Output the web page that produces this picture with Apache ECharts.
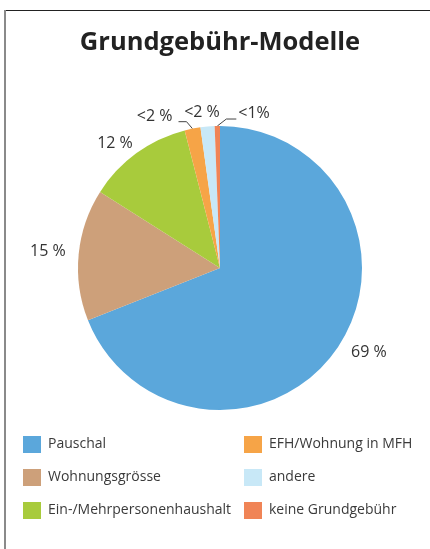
<!DOCTYPE html>
<html>
<head>
<meta charset="utf-8">
<script src="https://cdn.jsdelivr.net/npm/echarts@6/dist/echarts.min.js"></script>
<style>
  html, body { margin: 0; padding: 0; background: #fff; }
  #chart { width: 430px; height: 549px; }
</style>
</head>
<body>
<div id="chart"></div>
<script>
// Data
// ----------
var categories = ['Pauschal', 'Wohnungsgrösse', 'Ein-/Mehrpersonenhaushalt', 'EFH/Wohnung in MFH', 'andere', 'keine Grundgebühr']
var shares = [69, 15, 12, 1.8, 1.6, 0.6]
var shareLabels = ['69 %', '15 %', '12 %', '<2 %', '<2 %', '<1%']
var colors = ['#5ba7db', '#cda07a', '#a8cb3c', '#f6a447', '#c8e8f7', '#f08456']

var font = 'Open Sans'
var chart = echarts.init(document.getElementById('chart'))

var pieData = categories.map(function (name, i) {
    // only the thin slices get a leader line
    var withLine = shares[i] < 5 && i !== 4
    return {
        name: name,
        value: shares[i],
        itemStyle: { color: colors[i] },
        labelLine: { show: withLine }
    }
})

var legendBase = {
    orient: 'vertical',
    icon: 'rect',
    itemWidth: 18,
    itemHeight: 17,
    itemGap: 16,
    top: 431,
    textStyle: { fontFamily: font, fontSize: 14, color: '#3a3a3a', padding: [0, 0, 0, 2] }
}

var option = {
    animation: false,
    title: {
        text: 'Grundgebühr-Modelle',
        left: 215,
        textAlign: 'center',
        top: 25,
        textStyle: { fontFamily: font, fontSize: 25.5, fontWeight: 'bold', color: '#222' }
    },
    graphic: [
        { type: 'line', shape: { x1: 5, y1: 10.5, x2: 430, y2: 10.5 }, style: { stroke: '#222', lineWidth: 1.2 } },
        { type: 'line', shape: { x1: 5, y1: 10, x2: 5, y2: 549 }, style: { stroke: '#8a8a8a', lineWidth: 2 } }
    ],
    legend: [
        Object.assign({ left: 18, data: categories.slice(0, 3) }, legendBase),
        Object.assign({ left: 239, data: categories.slice(3) }, legendBase)
    ],
    series: [{
        type: 'pie',
        center: [220, 268],
        radius: 142,
        startAngle: 90,
        clockwise: true,
        avoidLabelOverlap: false,
        itemStyle: { borderWidth: 0 },
        label: {
            show: true,
            position: 'outside',
            fontFamily: font,
            fontSize: 16,
            color: '#333',
            formatter: function (p) { return shareLabels[p.dataIndex] }
        },
        labelLine: {
            length: 8,
            length2: 0,
            smooth: false,
            lineStyle: { color: '#444', width: 1 }
        },
        labelLayout: function (p) {
            var pts = p.labelLinePoints
            if (p.dataIndex === 0) return { dx: 2 }
            if (p.dataIndex === 1) return { dy: -2 }
            if (p.dataIndex === 2) return { dx: 6, dy: -3 }
            if (p.dataIndex === 4) return { dx: 18, dy: -6 }
            if (p.dataIndex === 3 && pts) {
                var a = pts[0]
                return {
                    x: a[0] - 20,
                    y: a[1] - 12,
                    align: 'right',
                    verticalAlign: 'middle',
                    labelLinePoints: [a, [a[0] - 6, a[1] - 7], [a[0] - 14, a[1] - 7]]
                }
            }
            if (p.dataIndex === 5 && pts) {
                var e = pts[0]
                return {
                    x: e[0] + 21,
                    y: e[1] - 13,
                    align: 'left',
                    verticalAlign: 'middle',
                    labelLinePoints: [e, [e[0] + 9, e[1] - 7], [e[0] + 19, e[1] - 7]]
                }
            }
        },
        emphasis: { disabled: true },
        data: pieData
    }]
}

chart.setOption(option)
</script>
</body>
</html>
